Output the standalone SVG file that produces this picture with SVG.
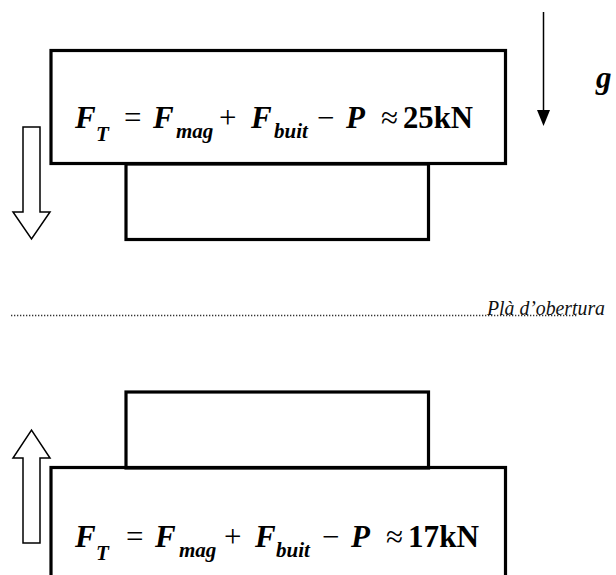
<svg xmlns="http://www.w3.org/2000/svg" width="616" height="575" viewBox="0 0 616 575">
<style>
.box{fill:none;stroke:#000;stroke-width:3.2}
.hollow{fill:#fff;stroke:#000;stroke-width:1.5;stroke-linejoin:miter}
text{font-family:"Liberation Serif","Times New Roman",serif;fill:#000}
.v{font-weight:bold;font-style:italic;font-size:31px}
.s{font-weight:bold;font-style:italic;font-size:21px}
.op{font-weight:normal;font-style:normal;font-size:31px}
.num{font-weight:bold;font-style:normal;font-size:31px}
.lbl{font-style:italic;font-size:20px;fill:#111}
</style>
<rect width="616" height="575" fill="#fff"/>

<g id="top-magnet">
<rect class="box" x="51" y="50.5" width="454.5" height="113"/>
<text>
<tspan class="v" x="75" y="128">F</tspan><tspan class="s" x="96" y="141">T</tspan>
<tspan class="op" x="124" y="128">=</tspan>
<tspan class="v" x="153" y="128">F</tspan><tspan class="s" x="176" y="138">mag</tspan>
<tspan class="op" x="219" y="128">+</tspan>
<tspan class="v" x="251" y="128">F</tspan><tspan class="s" x="274" y="138">buit</tspan>
<tspan class="op" x="317" y="128">−</tspan>
<tspan class="v" x="346" y="128">P</tspan>
<tspan class="op" x="381" y="128">≈</tspan>
<tspan class="num" x="403" y="128" textLength="70" lengthAdjust="spacingAndGlyphs">25kN</tspan>
</text>
</g>
<g id="top-piece">
<rect class="box" x="126" y="164" width="302.5" height="75.5"/>
</g>

<g id="g-label">
<text class="v" x="596" y="88">g</text>
</g>

<g id="plane">
<line x1="11" y1="315.5" x2="577" y2="315.5" stroke="#333" stroke-width="1.3" stroke-dasharray="1.3 1.7"/>
<text class="lbl" x="487" y="315" textLength="118" lengthAdjust="spacingAndGlyphs">Plà d’obertura</text>
</g>

<g id="bottom-piece">
<rect class="box" x="126" y="392" width="302.5" height="76"/>
</g>
<g id="bottom-magnet">
<rect class="box" x="51" y="467.5" width="454.5" height="130"/>
<text>
<tspan class="v" x="75" y="547">F</tspan><tspan class="s" x="96" y="560">T</tspan>
<tspan class="op" x="126" y="547">=</tspan>
<tspan class="v" x="155" y="547">F</tspan><tspan class="s" x="179" y="557">mag</tspan>
<tspan class="op" x="224" y="547">+</tspan>
<tspan class="v" x="255" y="547">F</tspan><tspan class="s" x="276" y="557">buit</tspan>
<tspan class="op" x="322" y="547">−</tspan>
<tspan class="v" x="351" y="547">P</tspan>
<tspan class="op" x="386" y="547">≈</tspan>
<tspan class="num" x="408" y="547" textLength="71" lengthAdjust="spacingAndGlyphs">17kN</tspan>
</text>
</g>

<g id="connectors">
<polygon class="hollow" points="23,127 40,127 40,212 50,212 31.5,239 13,212 23,212"/>
<polygon class="hollow" points="23,543 40,543 40,458 50,458 31.5,430 13,458 23,458"/>
<line x1="543.5" y1="12" x2="543.5" y2="112" stroke="#000" stroke-width="1.5"/>
<polygon points="537,110 550,110 543.5,126" fill="#000"/>
</g>
</svg>
